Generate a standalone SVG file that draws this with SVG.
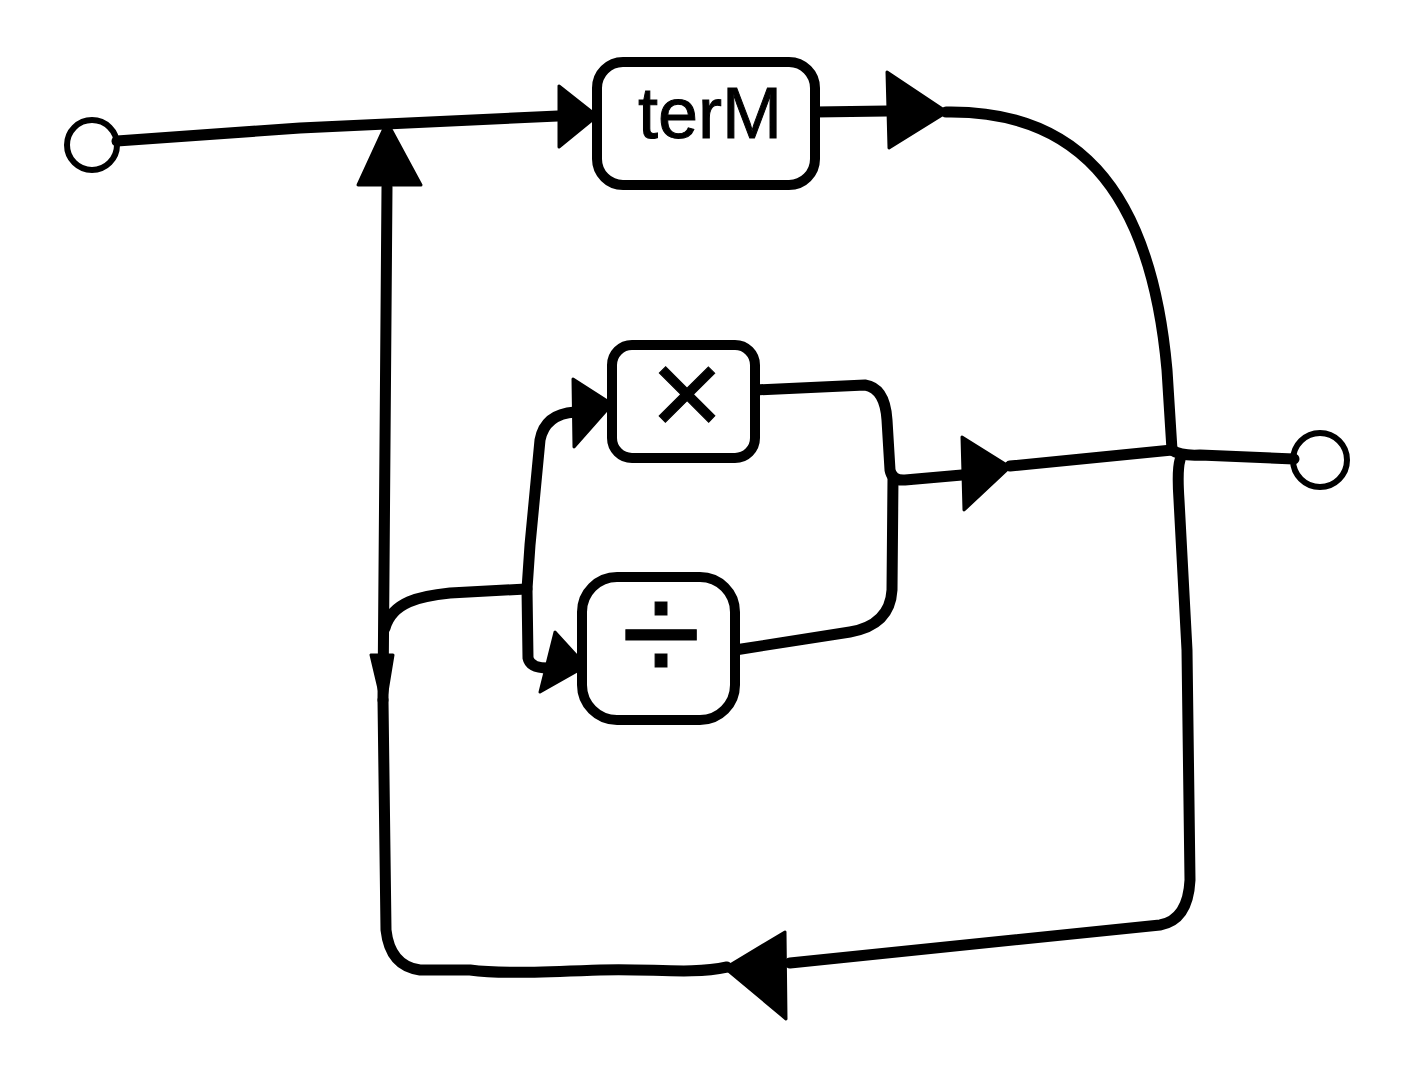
<svg xmlns="http://www.w3.org/2000/svg" width="1422" height="1067" viewBox="0 0 1422 1067">
<style>
.ln{fill:none;stroke:#000;stroke-width:11;stroke-linecap:round;stroke-linejoin:round}
.ar{fill:#000;stroke:#000;stroke-width:3;stroke-linejoin:round}
.box{fill:#fff;stroke:#000;stroke-width:10}
.term{fill:none;stroke:#000;stroke-width:6}
.lbl{font-family:"Liberation Sans",Arial,sans-serif;fill:#000;text-anchor:middle;stroke:#000}
</style>
<rect width="1422" height="1067" fill="#fff"/>
<g id="connectors">
<path class="ln" d="M117,141 L300,128 L558,116"/>
<path class="ln" d="M815,112 L887,111"/>
<path class="ln" d="M946,112 C1070,110 1150,180 1167,370 L1172,450"/>
<path class="ln" d="M1172,450 Q1180,456 1200,455 L1294,459"/>
<path class="ln" d="M1010,466 L1172,450"/>
<path class="ln" d="M1180,460 Q1177,470 1179,500 L1187,650 L1190,880 Q1188,920 1160,925 L790,963"/>
<path class="ln" d="M727,967 C690,975 650,968 600,970 C540,972 500,974 470,970 L420,970 Q390,966 386,930 L383,700"/>
<path class="ln" d="M387,187 L383,700"/>
<path class="ln" d="M385,628 C392,602 420,596 450,593 L526,589"/>
<path class="ln" d="M527,589 L530,545 L540,440 Q545,414 575,412"/>
<path class="ln" d="M527,589 L528,658 Q530,668 548,668"/>
<path class="ln" d="M755,390 L865,385 Q885,388 887,420 L890,470 Q892,481 905,480 L962,475"/>
<path class="ln" d="M735,650 L850,632 Q890,625 892,590 L893,478"/>
<polygon class="ar" points="559,86 559,147 597,116"/>
<polygon class="ar" points="887,72 889,148 947,112"/>
<polygon class="ar" points="387,122 358,185 421,185"/>
<polygon class="ar" points="573,379 574,447 612,404"/>
<polygon class="ar" points="555,632 540,692 586,666"/>
<polygon class="ar" points="371,655 393,655 384,710"/>
<polygon class="ar" points="962,437 964,510 1010,467"/>
<polygon class="ar" points="725,968 785,932 786,1019"/>
</g>
<g id="start"><circle class="term" cx="92" cy="145" r="25"/></g>
<g id="end"><circle class="term" cx="1320" cy="460" r="27"/></g>
<g id="term">
<rect class="box" x="597" y="62" width="218" height="123" rx="26"/>
<text class="lbl" x="710" y="138" font-size="72" stroke-width="1">terM</text>
</g>
<g id="times">
<rect class="box" x="612" y="345" width="143" height="113" rx="20"/>
<text class="lbl" x="687" y="436" font-size="125" stroke-width="1">×</text>
</g>
<g id="divide">
<rect class="box" x="582" y="577" width="153" height="143" rx="35"/>
<text class="lbl" x="661" y="683" font-size="145" stroke-width="1">÷</text>
</g>
</svg>
